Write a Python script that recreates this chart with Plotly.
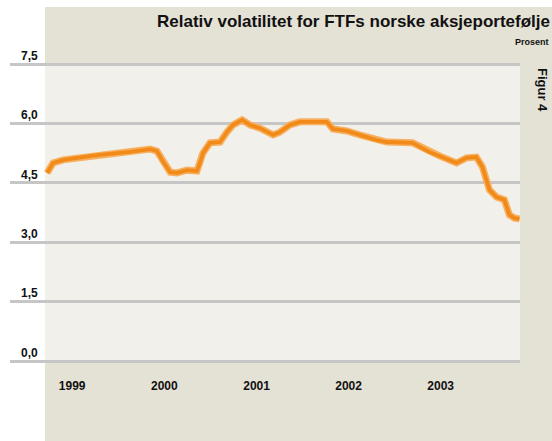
import plotly.graph_objects as go

# Data
dates = [
    "1999-03-25", "1999-04-18", "1999-05-28", "1999-10-09", "2000-02-17",
    "2000-05-07", "2000-06-03", "2000-06-27", "2000-07-25", "2000-08-21",
    "2000-09-30", "2000-11-08", "2000-11-20", "2000-12-02", "2000-12-30",
    "2001-02-08", "2001-03-07", "2001-03-31", "2001-05-06", "2001-06-07",
    "2001-07-16", "2001-09-06", "2001-10-03", "2001-11-12", "2001-12-21",
    "2002-04-07", "2002-05-01", "2002-06-25", "2002-08-15", "2002-10-22",
    "2002-12-01", "2003-03-13", "2003-05-19", "2003-06-28", "2003-09-03",
    "2003-10-13", "2003-11-21", "2003-12-15", "2004-01-12", "2004-02-09",
    "2004-03-11", "2004-03-31", "2004-04-20", "2004-05-10",
]
volatility = [
    4.75, 5.00, 5.08, 5.20, 5.28,
    5.35, 5.30, 5.03, 4.77, 4.75,
    4.82, 4.80, 5.00, 5.25, 5.51,
    5.53, 5.78, 5.96, 6.09, 5.96,
    5.88, 5.71, 5.78, 5.96, 6.04,
    6.04, 5.86, 5.81, 5.71, 5.58,
    5.53, 5.51, 5.28, 5.18, 5.00,
    5.13, 5.15, 4.90, 4.32, 4.14,
    4.07, 3.69, 3.61, 3.59,
]
y_tickvals = [0, 1.5, 3.0, 4.5, 6.0, 7.5]
y_ticktext = ["0,0", "1,5", "3,0", "4,5", "6,0", "7,5"]

title_text = "Relativ volatilitet for FTFs norske aksjeportefølje"
unit_text = "Prosent"
figure_text = "Figur 4"

W, H = 552, 441
# 0 -> 361 px, 7.5 -> 64 px  (39.6 px per unit)
L, R, T, B = 10, 32, 44, 76
pw, ph = W - L - R, H - T - B


def px_x(px):
    return (px - L) / pw


def px_y(py):
    return (H - B - py) / ph


fig = go.Figure()
fig.add_trace(go.Scatter(
    x=dates, y=volatility, mode="lines",
    line=dict(color="#f7b060", width=7),
    hoverinfo="skip", showlegend=False,
))
fig.add_trace(go.Scatter(
    x=dates, y=volatility, mode="lines",
    line=dict(color="#f28a1a", width=3.8),
    showlegend=False,
))

shapes = [
    dict(type="rect", xref="paper", yref="paper",
         x0=px_x(45), x1=px_x(W + 2), y0=px_y(H + 2), y1=px_y(7),
         fillcolor="#e4e1d5", line_width=0, layer="below"),
    dict(type="rect", xref="paper", yref="y",
         x0=px_x(45), x1=px_x(520), y0=0, y1=7.5,
         fillcolor="#f1f0eb", line_width=0, layer="below"),
]

annotations = [
    dict(text=title_text, xref="paper", yref="paper",
         x=px_x(552), y=px_y(22), xanchor="right", yanchor="middle",
         showarrow=False,
         font=dict(family="Liberation Sans", size=17, color="#111111", weight="bold")),
    dict(text=unit_text, xref="paper", yref="paper",
         x=px_x(551), y=px_y(42), xanchor="right", yanchor="middle",
         showarrow=False,
         font=dict(family="Liberation Sans", size=9, color="#111111", weight="bold")),
    dict(text=figure_text, xref="paper", yref="paper",
         x=px_x(543), y=px_y(90), xanchor="center", yanchor="middle",
         textangle=90, showarrow=False,
         font=dict(family="Liberation Sans", size=13, color="#111111", weight="bold")),
]

fig.update_layout(
    width=W, height=H,
    margin=dict(l=L, r=R, t=T, b=B, pad=0),
    paper_bgcolor="white",
    plot_bgcolor="rgba(0,0,0,0)",
    shapes=shapes,
    annotations=annotations,
    showlegend=False,
    xaxis=dict(
        type="date",
        range=["1998-10-29", "2004-05-12"],
        tick0="1999-01-01", dtick="M12",
        ticklabelmode="period", tickformat="%Y",
        showgrid=False, zeroline=False, showline=False, ticks="",
        ticklabelstandoff=12,
        tickfont=dict(family="Liberation Sans", size=12, color="#111111", weight="bold"),
    ),
    yaxis=dict(
        range=[-0.1, 7.5 + 20 / 39.6],
        tickvals=y_tickvals, ticktext=y_ticktext,
        ticklabelposition="inside top",
        ticklabelstandoff=8,
        showgrid=True, gridcolor="#c6c6c6", gridwidth=2.5,
        zeroline=False, showline=False, ticks="",
        tickfont=dict(family="Liberation Sans", size=12, color="#111111", weight="bold"),
    ),
)

fig.write_html(
    "out.html",
    config={"displayModeBar": False},
    post_script="document.body.style.margin='0';document.body.style.overflow='hidden';",
)
